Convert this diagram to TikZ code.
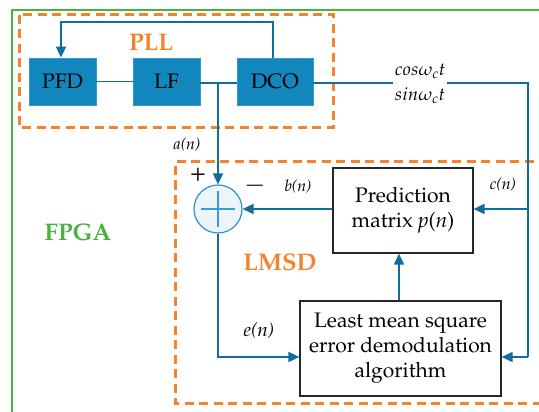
\documentclass[tikz,border=0pt]{standalone}
\usepackage[T1]{fontenc}
\usepackage{mathpazo}
\usetikzlibrary{arrows.meta,calc}
\definecolor{bfill}{HTML}{1287BE}
\definecolor{bline}{HTML}{0F6E9E}
\definecolor{orng}{HTML}{F5822D}
\definecolor{grn}{HTML}{4DB046}
\definecolor{sumfill}{HTML}{EEF5FA}
\definecolor{sumplus}{HTML}{3A9AD6}
\tikzset{
  bluebox/.style={draw=bfill!85!white, fill=bfill, line width=0.8pt, minimum height=47pt, inner sep=0pt, font=\fontsize{21}{25}\selectfont},
  whitebox/.style={draw=black!85, fill=white, line width=1.2pt, align=center, inner sep=0pt, font=\fontsize{21}{25}\selectfont},
  conn/.style={draw=bline, line width=1.8pt},
  arr/.style={conn, -{Triangle[length=11pt,width=10pt]}},
  orangebox/.style={draw=orng, line width=3pt, dash pattern=on 9pt off 5.5pt},
  lbl/.style={font=\fontsize{16}{18}\selectfont\itshape, inner sep=0pt},
  title/.style={font=\fontsize{24}{26}\selectfont\bfseries, inner sep=0pt}
}
\begin{document}
\begin{tikzpicture}[x=1pt,y=-1pt]
\useasboundingbox (0,0) rectangle (539,412);
\clip (0,0) rectangle (539,412);
% FPGA frame
\draw[grn, line width=2.6pt] (12,415) -- (12,10) -- (545,10);
\node[title, text=grn] (fpga) at (78,232) {FPGA};
% dashed regions
\draw[orangebox] (19,15) rectangle (333,128);
\draw[orangebox] (548,162) -- (175,162) -- (175,403) -- (548,403);
\node[title, text=orng] (pll) at (151,43) {PLL};
\node[title, text=orng] (lmsd) at (280,262) {LMSD};
% PLL blocks
\node[bluebox, minimum width=67pt] (pfd) at (62.5,81.5) {PFD};
\node[bluebox, minimum width=67pt] (lf) at (166.5,81.5) {LF};
\node[bluebox, minimum width=76pt] (dco) at (275,81.5) {DCO};
% LMSD blocks
\node[circle, draw=sumplus!80!bline, fill=sumfill, line width=1.2pt, minimum size=48pt, inner sep=0pt] (sum) at (218,209) {};
\draw[sumplus, line width=1.6pt] ($(sum.center)+(-17,0)$) -- ($(sum.center)+(17,0)$);
\draw[sumplus, line width=1.6pt] ($(sum.center)+(0,-18)$) -- ($(sum.center)+(0,18)$);
\node[whitebox, minimum width=140pt, minimum height=85pt] (pred) at (403,210.5) {Prediction\\matrix \textit{p}(\textit{n})};
\node[whitebox, minimum width=201pt, minimum height=95pt] (lms) at (400.5,348.5) {Least mean square\\error demodulation\\algorithm};
% coordinates
\coordinate (br) at (218,83);
\coordinate (fbA) at (273,22);
\coordinate (fbB) at (61,22);
\coordinate (rt) at (528,83);
\coordinate (rc) at (528,209);
\coordinate (rb) at (528,357);
\coordinate (lb) at (218,357);
% connectors
\draw[conn] (pfd.east) -- (lf.west);
\draw[conn] (lf.east |- br) -- (dco.west |- br);
\draw[arr] (br) -- (sum.north);
\draw[arr] (fbA |- dco.north) -- (fbA) -- (fbB) -- (pfd.north -| fbB);
\draw[conn] (dco.east |- rt) -- (rt) -- (rb);
\draw[arr] (rb) -- (lms.east |- rb);
\draw[arr] (rc) -- (pred.east |- rc);
\draw[arr] (pred.west |- sum.east) -- (sum.east);
\draw[arr] (lms.north -| 399,0) -- (pred.south -| 399,0);
\draw[arr] (sum.south) -- (lb) -- (lms.west |- lb);
% labels
\node[fill=white, inner sep=1.5pt, font=\fontsize{18}{25}\selectfont, align=center] (cs) at (420,84) {$cos\omega_{c}t$\\$sin\omega_{c}t$};
\node[lbl] (an) at (187,145) {a(n)};
\node[lbl] (bn) at (298,187) {b(n)};
\node[lbl] (cn) at (503,185) {c(n)};
\node[lbl, font=\fontsize{19}{21}\selectfont\itshape] (en) at (259,331) {e(n)};
\node[inner sep=0pt, font=\fontsize{26}{26}\selectfont] (plus) at (198,175) {+};
\node[inner sep=0pt, font=\fontsize{26}{26}\selectfont] (minus) at (255,186) {$-$};
\end{tikzpicture}
\end{document}
